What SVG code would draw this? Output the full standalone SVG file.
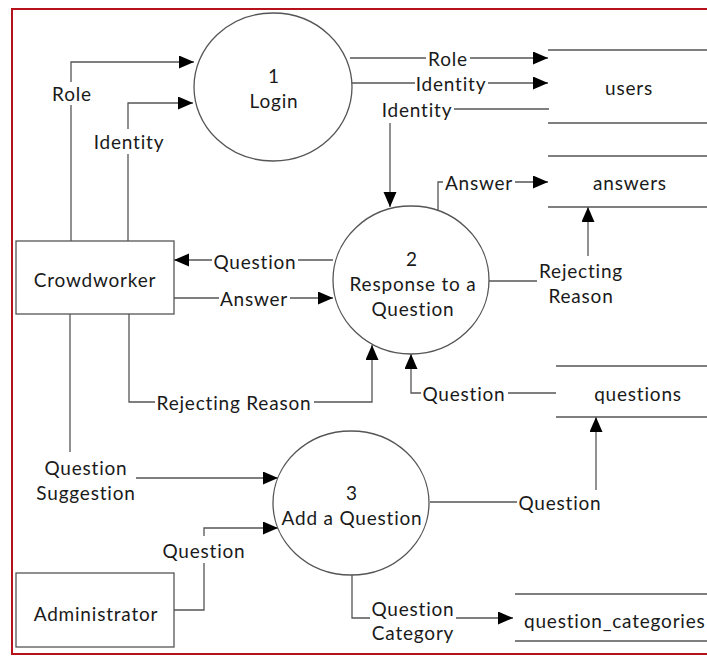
<svg xmlns="http://www.w3.org/2000/svg" width="707" height="656" viewBox="0 0 707 656">
<style>
.t{font-family:Lato,"Liberation Sans",sans-serif;font-size:19px;fill:#1a1a1a;text-anchor:middle;dominant-baseline:central;letter-spacing:0.8px}
.ln{fill:none;stroke:#555;stroke-width:1.3}
.nd{fill:#fff;stroke:#555;stroke-width:1.3}
.st{stroke:#555;stroke-width:1.5}
</style>
<defs>
<marker id="ah" markerUnits="userSpaceOnUse" markerWidth="16" markerHeight="14" refX="15" refY="6.5" orient="auto">
<path d="M0,0 L15,6.5 L0,13 Z" fill="#000"/>
</marker>
</defs>
<rect width="707" height="656" fill="#fff"/>
<path d="M707,9 H12 V654 H707" fill="none" stroke="#b5121b" stroke-width="2"/>

<g id="connectors">
<path class="ln" d="M71,241 V105"/>
<path class="ln" d="M71,82 V62 H194" marker-end="url(#ah)"/>
<text class="t" x="72" y="93">Role</text>
<path class="ln" d="M128,241 V154"/>
<path class="ln" d="M128,129 V103 H193" marker-end="url(#ah)"/>
<text class="t" x="129" y="141">Identity</text>
<path class="ln" d="M350,58 H426"/>
<path class="ln" d="M470,58 H548" marker-end="url(#ah)"/>
<text class="t" x="448" y="58">Role</text>
<path class="ln" d="M352,83 H415"/>
<path class="ln" d="M488,83 H548" marker-end="url(#ah)"/>
<text class="t" x="451" y="83">Identity</text>
<path class="ln" d="M549,109 H454"/>
<path class="ln" d="M390,123 V207" marker-end="url(#ah)"/>
<text class="t" x="417" y="109">Identity</text>
<path class="ln" d="M438,211 V182 H443"/>
<path class="ln" d="M515,182 H548" marker-end="url(#ah)"/>
<text class="t" x="479" y="182">Answer</text>
<path class="ln" d="M333,260 H298"/>
<path class="ln" d="M212,260 H174" marker-end="url(#ah)"/>
<text class="t" x="255" y="261">Question</text>
<path class="ln" d="M174,298 H219"/>
<path class="ln" d="M290,298 H333" marker-end="url(#ah)"/>
<text class="t" x="254" y="298">Answer</text>
<path class="ln" d="M129,314 V402 H155"/>
<path class="ln" d="M314,402 H372 V345" marker-end="url(#ah)"/>
<text class="t" x="234" y="402">Rejecting Reason</text>
<path class="ln" d="M489,281 H537"/>
<path class="ln" d="M588,256 V207" marker-end="url(#ah)"/>
<text class="t" x="581" y="270">Rejecting</text>
<text class="t" x="581" y="295">Reason</text>
<path class="ln" d="M556,393 H508"/>
<path class="ln" d="M421,393 H411 V354" marker-end="url(#ah)"/>
<text class="t" x="464" y="393">Question</text>
<path class="ln" d="M70,314 V452"/>
<path class="ln" d="M136,478 H278" marker-end="url(#ah)"/>
<text class="t" x="86" y="467">Question</text>
<text class="t" x="86" y="492">Suggestion</text>
<path class="ln" d="M174,610 H204 V563"/>
<path class="ln" d="M204,536 V528 H278" marker-end="url(#ah)"/>
<text class="t" x="204" y="550">Question</text>
<path class="ln" d="M430,502 H517"/>
<path class="ln" d="M596,490 V417" marker-end="url(#ah)"/>
<text class="t" x="560" y="502">Question</text>
<path class="ln" d="M352,575 V618 H370"/>
<path class="ln" d="M456,618 H513" marker-end="url(#ah)"/>
<text class="t" x="413" y="608">Question</text>
<text class="t" x="413" y="632">Category</text>
</g>

<g id="login">
<ellipse class="nd" cx="273" cy="87" rx="79" ry="74"/>
<text class="t" x="274" y="75">1</text>
<text class="t" x="274" y="100">Login</text>
</g>
<g id="response">
<ellipse class="nd" cx="411" cy="280" rx="78" ry="74"/>
<text class="t" x="412" y="258">2</text>
<text class="t" x="413" y="283">Response to a</text>
<text class="t" x="413" y="308">Question</text>
</g>
<g id="addquestion">
<ellipse class="nd" cx="351" cy="503" rx="78" ry="72"/>
<text class="t" x="352" y="492">3</text>
<text class="t" x="352" y="517">Add a Question</text>
</g>
<g id="crowdworker">
<rect class="nd" x="16" y="241" width="158" height="73"/>
<text class="t" x="95" y="279">Crowdworker</text>
</g>
<g id="administrator">
<rect class="nd" x="16" y="573" width="158" height="74"/>
<text class="t" x="96" y="613">Administrator</text>
</g>
<g id="users">
<line class="st" x1="548" y1="50" x2="707" y2="50"/>
<line class="st" x1="548" y1="123" x2="707" y2="123"/>
<text class="t" x="629" y="87">users</text>
</g>
<g id="answers">
<line class="st" x1="548" y1="156" x2="707" y2="156"/>
<line class="st" x1="548" y1="207" x2="707" y2="207"/>
<text class="t" x="630" y="182">answers</text>
</g>
<g id="questions">
<line class="st" x1="556" y1="366" x2="707" y2="366"/>
<line class="st" x1="556" y1="417" x2="707" y2="417"/>
<text class="t" x="638" y="393">questions</text>
</g>
<g id="question_categories">
<line class="st" x1="515" y1="594" x2="707" y2="594"/>
<line class="st" x1="515" y1="641" x2="707" y2="641"/>
<text class="t" x="524" y="620" style="text-anchor:start">question_categories</text>
</g>
</svg>
